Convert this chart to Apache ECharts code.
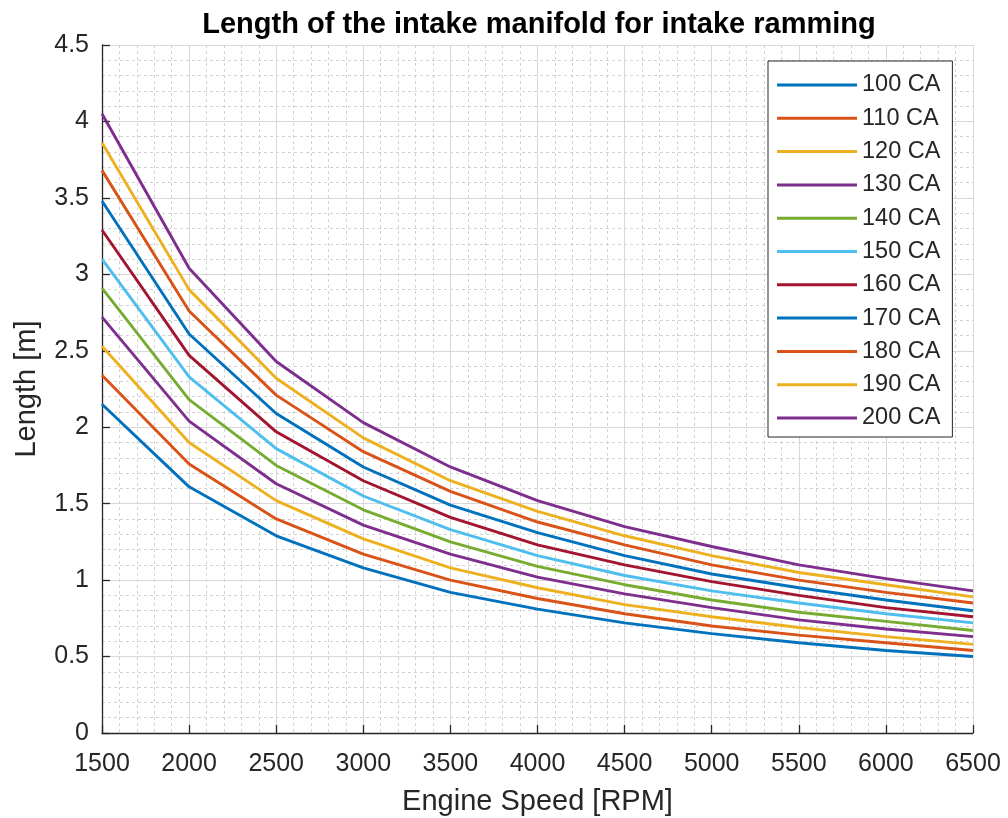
<!DOCTYPE html>
<html>
<head>
<meta charset="utf-8">
<title>Length of the intake manifold for intake ramming</title>
<script src="https://cdn.jsdelivr.net/npm/echarts@6/dist/echarts.min.js"></script>
<style>
  html, body { margin: 0; padding: 0; background: #fff; }
  #chart { width: 1008px; height: 818px; }
</style>
</head>
<body>
<div id="chart"></div>
<script>
// Engine speed grid [RPM]
const rpm = [1500, 2000, 2500, 3000, 3500, 4000, 4500, 5000, 5500, 6000, 6500];

// Intake valve duration labels (crank angle)
const caLabels = ['100 CA', '110 CA', '120 CA', '130 CA', '140 CA', '150 CA',
                  '160 CA', '170 CA', '180 CA', '190 CA', '200 CA'];

// Manifold length [m] per duration, one value per engine speed
const len100 = [2.15, 1.61, 1.29, 1.08, 0.92, 0.81, 0.72, 0.65, 0.59, 0.54, 0.50];
const len110 = [2.34, 1.76, 1.40, 1.17, 1.00, 0.88, 0.78, 0.70, 0.64, 0.59, 0.54];
const len120 = [2.53, 1.90, 1.52, 1.27, 1.08, 0.95, 0.84, 0.76, 0.69, 0.63, 0.58];
const len130 = [2.72, 2.04, 1.63, 1.36, 1.17, 1.02, 0.91, 0.82, 0.74, 0.68, 0.63];
const len140 = [2.91, 2.18, 1.75, 1.46, 1.25, 1.09, 0.97, 0.87, 0.79, 0.73, 0.67];
const len150 = [3.10, 2.33, 1.86, 1.55, 1.33, 1.16, 1.03, 0.93, 0.85, 0.78, 0.72];
const len160 = [3.29, 2.47, 1.97, 1.65, 1.41, 1.23, 1.10, 0.99, 0.90, 0.82, 0.76];
const len170 = [3.48, 2.61, 2.09, 1.74, 1.49, 1.31, 1.16, 1.04, 0.95, 0.87, 0.80];
const len180 = [3.68, 2.76, 2.21, 1.84, 1.58, 1.38, 1.23, 1.10, 1.00, 0.92, 0.85];
const len190 = [3.86, 2.90, 2.32, 1.93, 1.65, 1.45, 1.29, 1.16, 1.05, 0.97, 0.89];
const len200 = [4.05, 3.04, 2.43, 2.03, 1.74, 1.52, 1.35, 1.22, 1.10, 1.01, 0.93];

const lengths = [len100, len110, len120, len130, len140, len150,
                 len160, len170, len180, len190, len200];

// MATLAB default line colour order
const palette = ['#0072BD', '#D95319', '#EDB120', '#7E2F8E', '#77AC30',
                 '#4DBEEE', '#A2142F'];

const FONT = '"Liberation Sans", Arial, Helvetica, sans-serif';
const INK = '#262626';

const series = lengths.map((vals, i) => ({
  name: caLabels[i],
  type: 'line',
  symbol: 'none',
  data: rpm.map((r, j) => [r, vals[j]]),
  lineStyle: { width: 2.9, color: palette[i % palette.length] },
  itemStyle: { color: palette[i % palette.length] },
  z: 3
}));

const chart = echarts.init(document.getElementById('chart'), null, { renderer: 'canvas' });
chart.setOption({
  animation: false,
  backgroundColor: '#fff',
  title: {
    text: 'Length of the intake manifold for intake ramming',
    left: 534,
    textAlign: 'center',
    top: 5,
    textStyle: { fontFamily: FONT, fontSize: 29, fontWeight: 'bold', color: '#000' }
  },
  grid: { left: 102, right: 35, top: 45, bottom: 85, containLabel: false, outerBoundsMode: 'none' },
  legend: {
    orient: 'vertical',
    left: 768,
    top: 61,
    padding: [12, 12, 7, 9],
    icon: 'rect',
    itemWidth: 80,
    itemHeight: 3,
    itemGap: 9.3,
    itemTextGap: 7,
    backgroundColor: '#fff',
    borderColor: INK,
    borderWidth: 1,
    borderRadius: 0,
    data: caLabels,
    textStyle: { fontFamily: FONT, fontSize: 23.5, lineHeight: 24, color: INK }
  },
  xAxis: {
    type: 'value',
    min: 1500,
    max: 6500,
    interval: 500,
    name: 'Engine Speed [RPM]',
    nameLocation: 'middle',
    nameGap: 54,
    nameTextStyle: { fontFamily: FONT, fontSize: 29, color: INK },
    axisLine: { show: true, onZero: false, lineStyle: { color: INK, width: 1.3 } },
    axisTick: { show: true, inside: true, length: 8, lineStyle: { color: INK, width: 1.3 } },
    axisLabel: { fontFamily: FONT, fontSize: 25, color: INK, margin: 19,
                 formatter: v => String(v) },
    splitLine: { show: true, lineStyle: { color: '#d8d8d8', width: 1 } },
    minorTick: { show: false, splitNumber: 5 },
    minorSplitLine: { show: true, lineStyle: { color: '#d2d2d2', width: 1, type: [3, 3] } }
  },
  yAxis: {
    type: 'value',
    min: 0,
    max: 4.5,
    interval: 0.5,
    name: 'Length [m]',
    nameLocation: 'middle',
    nameGap: 61,
    nameTextStyle: { fontFamily: FONT, fontSize: 29, color: INK },
    axisLine: { show: true, onZero: false, lineStyle: { color: INK, width: 1.3 } },
    axisTick: { show: true, inside: true, length: 8, lineStyle: { color: INK, width: 1.3 } },
    axisLabel: { fontFamily: FONT, fontSize: 25, color: INK, margin: 13 },
    splitLine: { show: true, lineStyle: { color: '#d8d8d8', width: 1 } },
    minorTick: { show: false, splitNumber: 5 },
    minorSplitLine: { show: true, lineStyle: { color: '#d2d2d2', width: 1, type: [3, 3] } }
  },
  series: series
});
</script>
</body>
</html>
